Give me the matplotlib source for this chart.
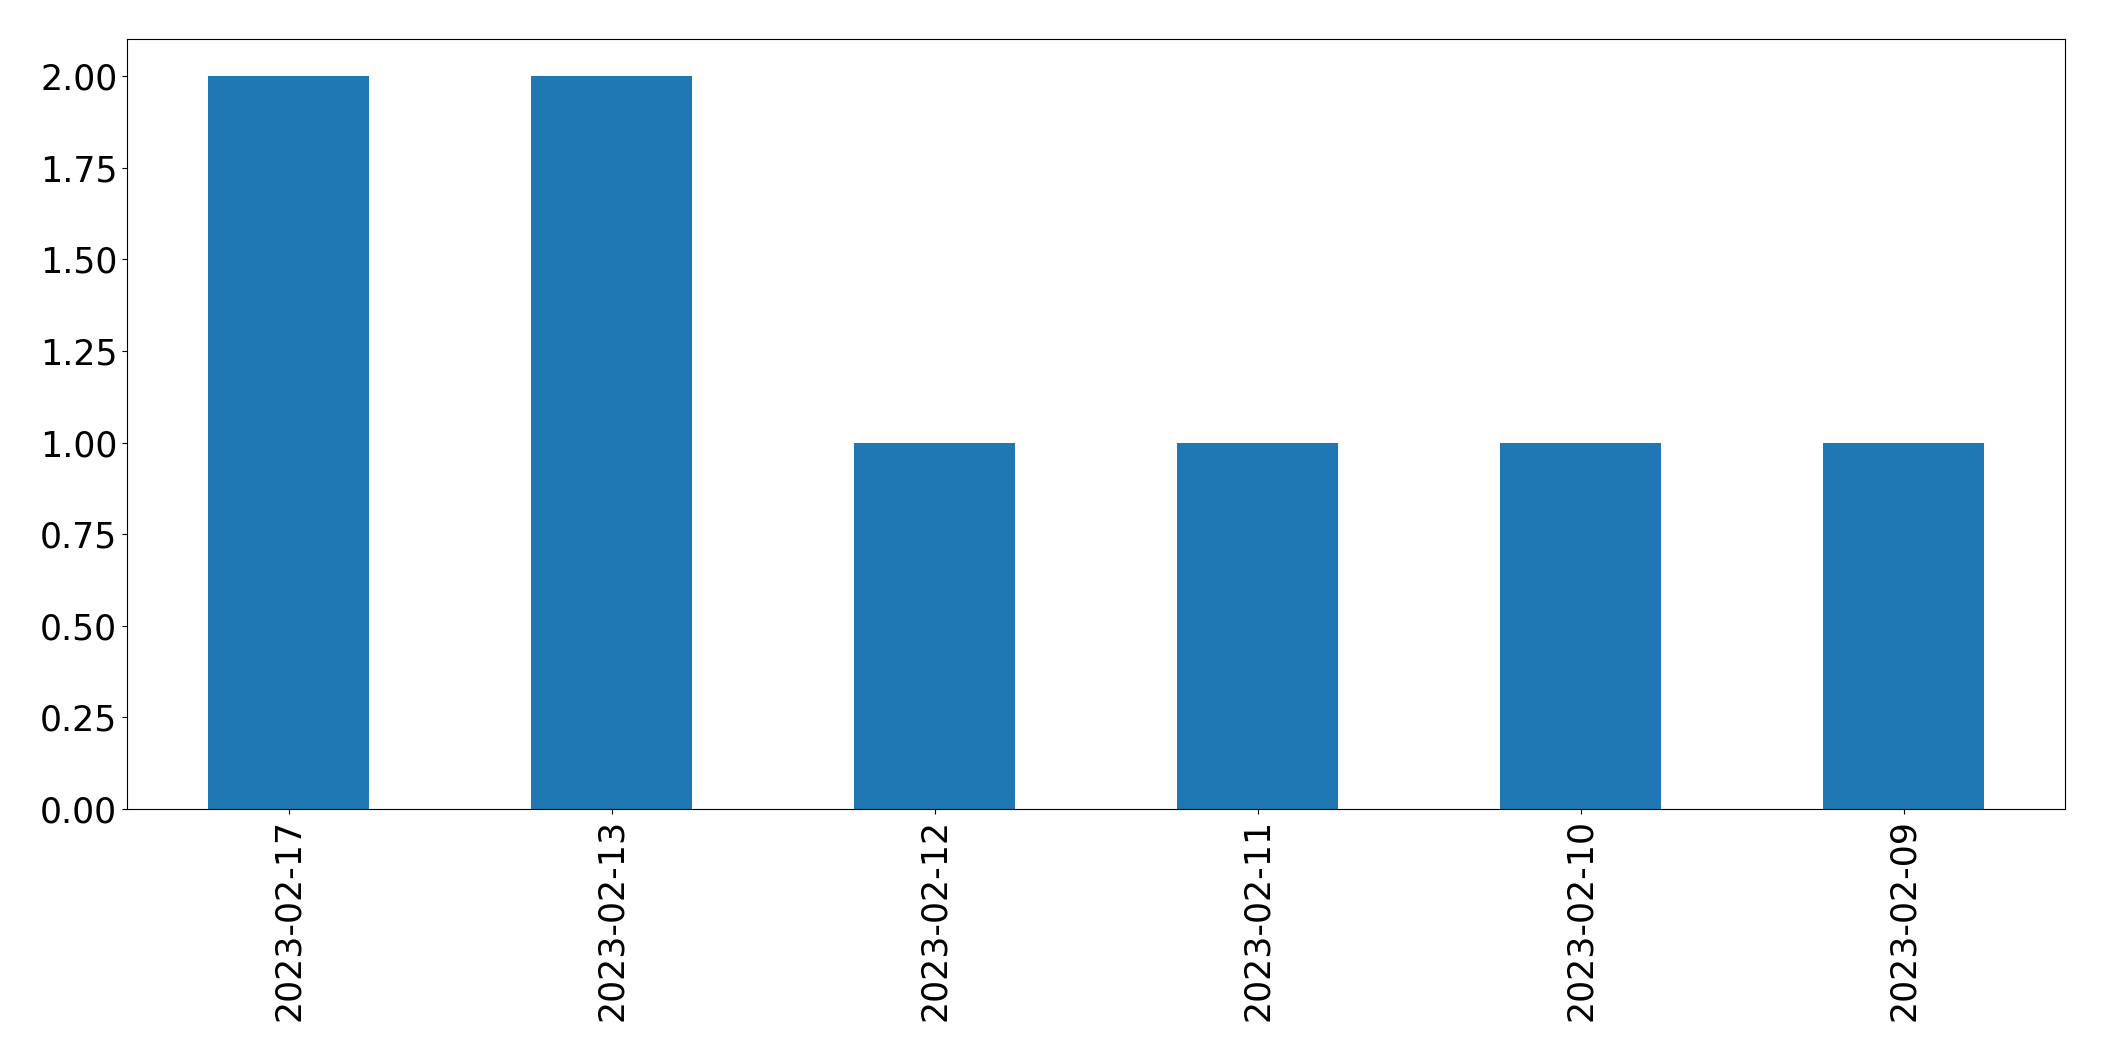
import matplotlib
matplotlib.use("Agg")
import matplotlib.pyplot as plt
import pandas as pd

dates = ["2023-02-17", "2023-02-13", "2023-02-12", "2023-02-11", "2023-02-10", "2023-02-09"]
counts = [2, 2, 1, 1, 1, 1]

plt.rcParams['font.size'] = 25

fig = plt.figure(figsize=(21.04, 10.61), dpi=100)
ax = fig.add_axes([0.0604, 0.2375, 0.9815 - 0.0604, 0.9628 - 0.2375])
s = pd.Series(counts, index=dates)
s.plot(kind="bar", ax=ax, color="#1f77b4")
ax.tick_params(labelsize=25)
fig.savefig("out.png", dpi=100)
